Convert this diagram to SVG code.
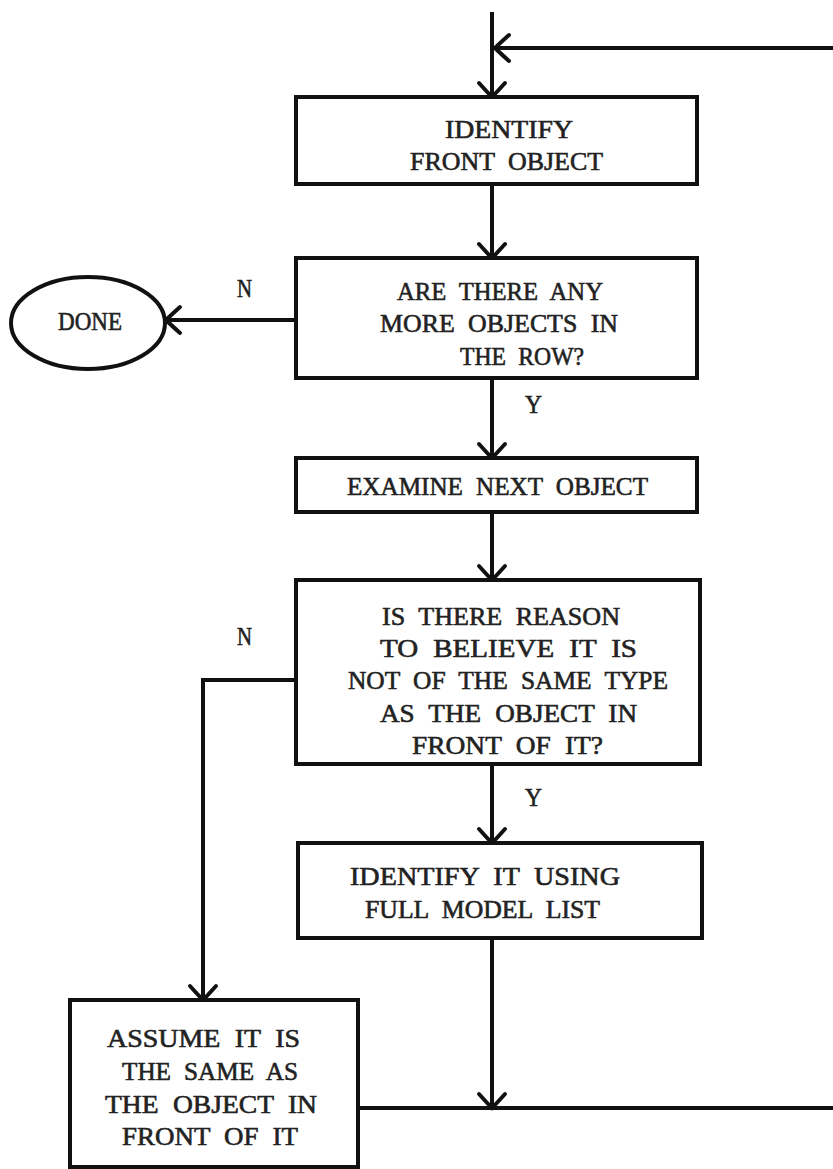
<svg xmlns="http://www.w3.org/2000/svg" width="833" height="1169" viewBox="0 0 833 1169">
  <style>
    .box { fill: #fff; stroke: #111; stroke-width: 4; }
    .edge { fill: none; stroke: #111; stroke-width: 4; }
    .t { font-family: "Liberation Serif", "Times New Roman", serif; font-size: 26px; word-spacing: 7px; fill: #222; stroke: #222; stroke-width: 0.6; }
  </style>
  <defs>
    <marker id="arrow" markerUnits="userSpaceOnUse" viewBox="-20 -20 40 40" markerWidth="40" markerHeight="40" refX="0" refY="0" orient="auto">
      <path d="M -14 -13 Q -4 -4 0 0 Q -4 4 -14 13" fill="none" stroke="#111" stroke-width="4" stroke-linecap="round"/>
    </marker>
  </defs>
  <rect width="833" height="1169" fill="#fff"/>

  <g id="connectors">
    <path class="edge" d="M 492 12 L 492 97" marker-end="url(#arrow)"/>
    <path class="edge" d="M 833 48 L 495 48" marker-end="url(#arrow)"/>
    <path class="edge" d="M 492 184 L 492 258" marker-end="url(#arrow)"/>
    <path class="edge" d="M 296 320 L 166 320" marker-end="url(#arrow)"/>
    <path class="edge" d="M 492 378 L 492 458" marker-end="url(#arrow)"/>
    <path class="edge" d="M 492 512 L 492 580" marker-end="url(#arrow)"/>
    <path class="edge" d="M 296 680 L 203 680 L 203 1000" marker-end="url(#arrow)"/>
    <path class="edge" d="M 492 764 L 492 843" marker-end="url(#arrow)"/>
    <path class="edge" d="M 492 938 L 492 1108" marker-end="url(#arrow)"/>
    <path class="edge" d="M 358 1108 L 833 1108"/>
    <text class="t" x="237" y="297" textLength="15" lengthAdjust="spacingAndGlyphs">N</text>
    <text class="t" x="525" y="413" textLength="17" lengthAdjust="spacingAndGlyphs">Y</text>
    <text class="t" x="237" y="645" textLength="15" lengthAdjust="spacingAndGlyphs">N</text>
    <text class="t" x="525" y="806" textLength="17" lengthAdjust="spacingAndGlyphs">Y</text>
  </g>

  <g id="identify-front">
    <rect class="box" x="296" y="97" width="401" height="87"/>
    <text class="t" x="445" y="138" textLength="128" lengthAdjust="spacingAndGlyphs">IDENTIFY</text>
    <text class="t" x="410" y="170" textLength="193" lengthAdjust="spacingAndGlyphs">FRONT OBJECT</text>
  </g>

  <g id="more-objects">
    <rect class="box" x="296" y="258" width="401" height="120"/>
    <text class="t" x="397" y="300" textLength="206" lengthAdjust="spacingAndGlyphs">ARE THERE ANY</text>
    <text class="t" x="380" y="332" textLength="238" lengthAdjust="spacingAndGlyphs">MORE OBJECTS IN</text>
    <text class="t" x="460" y="365" textLength="124" lengthAdjust="spacingAndGlyphs">THE ROW?</text>
  </g>

  <g id="done">
    <ellipse class="box" cx="88" cy="323" rx="77" ry="46"/>
    <text class="t" x="58" y="330" textLength="64" lengthAdjust="spacingAndGlyphs">DONE</text>
  </g>

  <g id="examine-next">
    <rect class="box" x="296" y="458" width="401" height="54"/>
    <text class="t" x="347" y="495" textLength="301" lengthAdjust="spacingAndGlyphs">EXAMINE NEXT OBJECT</text>
  </g>

  <g id="same-type">
    <rect class="box" x="296" y="580" width="404" height="184"/>
    <text class="t" x="382" y="625" textLength="238" lengthAdjust="spacingAndGlyphs">IS THERE REASON</text>
    <text class="t" x="380" y="657" textLength="257" lengthAdjust="spacingAndGlyphs">TO BELIEVE IT IS</text>
    <text class="t" x="348" y="689" textLength="320" lengthAdjust="spacingAndGlyphs">NOT OF THE SAME TYPE</text>
    <text class="t" x="380" y="722" textLength="257" lengthAdjust="spacingAndGlyphs">AS THE OBJECT IN</text>
    <text class="t" x="412" y="754" textLength="191" lengthAdjust="spacingAndGlyphs">FRONT OF IT?</text>
  </g>

  <g id="identify-full">
    <rect class="box" x="298" y="843" width="404" height="95"/>
    <text class="t" x="350" y="885" textLength="270" lengthAdjust="spacingAndGlyphs">IDENTIFY IT USING</text>
    <text class="t" x="365" y="918" textLength="235" lengthAdjust="spacingAndGlyphs">FULL MODEL LIST</text>
  </g>

  <g id="assume-same">
    <rect class="box" x="70" y="1000" width="288" height="167"/>
    <text class="t" x="107" y="1047" textLength="193" lengthAdjust="spacingAndGlyphs">ASSUME IT IS</text>
    <text class="t" x="122" y="1080" textLength="176" lengthAdjust="spacingAndGlyphs">THE SAME AS</text>
    <text class="t" x="105" y="1113" textLength="212" lengthAdjust="spacingAndGlyphs">THE OBJECT IN</text>
    <text class="t" x="122" y="1145" textLength="176" lengthAdjust="spacingAndGlyphs">FRONT OF IT</text>
  </g>
</svg>
